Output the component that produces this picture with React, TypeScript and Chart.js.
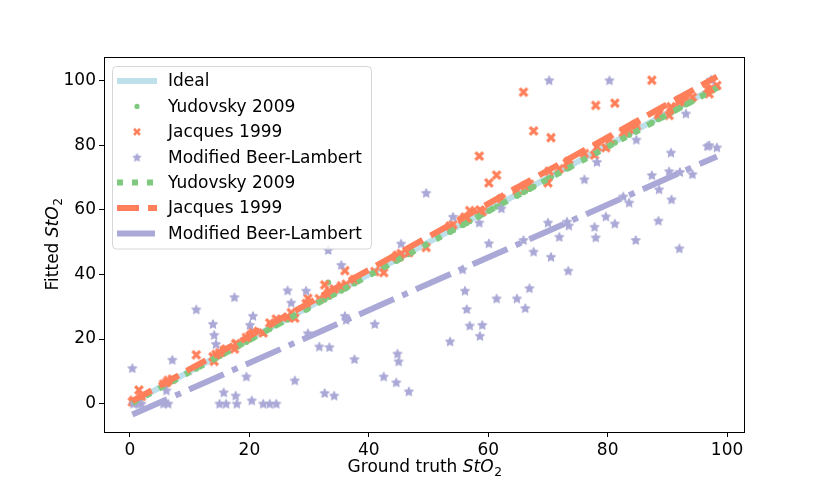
import React, { useEffect, useRef } from 'react';
import { Chart, registerables, ChartConfiguration, Plugin } from 'chart.js';
Chart.register(...registerables);

const FONT = '"DejaVu Sans", Verdana, sans-serif';
const FS = 17;

// Ground truth StO2 (shared by all methods)
const groundTruth = [
  0.4, 0.6, 1.5, 1.9, 5.6, 6.1, 6.4, 7.1, 11.1, 13.9,
  14.1, 14.4, 15.0, 15.7, 16.1, 17.5, 17.7, 17.9, 19.5, 20.1,
  20.4, 20.6, 22.3, 23.4, 24.5, 26.4, 27.0, 27.6, 29.5, 29.8,
  31.7, 32.6, 33.2, 33.4, 34.2, 35.4, 36.0, 36.2, 37.6, 41.0,
  42.5, 44.6, 44.8, 45.0, 45.4, 46.7, 49.6, 53.6, 54.1, 55.7,
  56.1, 56.4, 56.9, 58.5, 58.6, 59.0, 60.1, 61.4, 62.2, 64.8,
  65.9, 66.2, 66.9, 67.6, 70.0, 70.2, 70.5, 71.9, 73.2, 73.4,
  73.5, 76.1, 77.8, 78.0, 78.2, 79.7, 80.3, 81.2, 82.6, 83.6,
  84.7, 84.8, 87.4, 88.5, 88.6, 90.3, 90.6, 90.7, 92.0, 92.1,
  93.1, 94.2, 96.7, 97.0, 97.3, 98.3,
];

const yudovsky = [
  0.3, 0.5, 1.3, 1.8, 5.3, 5.9, 6.2, 6.9, 10.8, 13.6,
  14.0, 14.1, 14.7, 15.4, 16.0, 17.2, 17.6, 17.5, 19.1, 19.8,
  20.2, 20.3, 21.9, 23.1, 24.2, 26.0, 26.7, 27.2, 29.1, 29.5,
  31.4, 32.2, 37.5, 33.0, 33.9, 35.0, 35.6, 35.9, 37.2, 40.6,
  42.1, 44.2, 44.4, 44.7, 45.0, 46.3, 49.2, 53.2, 53.7, 55.3,
  55.8, 56.0, 56.5, 58.1, 58.3, 58.6, 59.7, 61.0, 61.8, 64.4,
  65.5, 65.8, 66.5, 67.2, 69.6, 69.8, 70.1, 71.5, 72.8, 73.0,
  73.1, 75.7, 77.4, 77.6, 77.8, 79.3, 79.9, 80.8, 82.2, 83.2,
  84.3, 84.4, 87.0, 88.1, 88.2, 89.9, 90.2, 90.3, 91.6, 91.7,
  92.7, 93.8, 96.3, 96.6, 96.9, 97.9,
];

const jacques = [
  0.5, 1.0, 4.2, 2.2, 6.0, 6.5, 7.2, 7.6, 15.1, 14.5,
  13.1, 15.2, 15.8, 16.5, 16.9, 16.9, 18.6, 18.4, 20.5, 21.0,
  21.5, 22.4, 21.9, 25.0, 26.2, 26.8, 28.2, 26.5, 31.0, 32.6,
  32.5, 36.8, 34.0, 34.6, 35.5, 36.5, 41.2, 37.0, 38.5, 40.9,
  40.6, 45.5, 46.0, 45.5, 46.5, 46.8, 48.4, 55.0, 55.5, 57.0,
  57.8, 57.5, 59.8, 76.7, 60.0, 59.5, 68.4, 70.8, 63.5, 66.0,
  96.5, 67.5, 68.0, 84.5, 68.4, 72.0, 82.4, 72.8, 74.5, 75.0,
  74.0, 77.5, 77.0, 92.4, 79.5, 79.3, 81.8, 93.1, 84.0, 85.0,
  86.5, 86.0, 100.2, 89.5, 90.0, 89.3, 92.0, 91.5, 93.5, 94.0,
  94.5, 95.0, 97.5, 96.0, 97.6, 98.6,
];

const beerLambert = [
  11.0, 0.0, 0.0, 0.0, 0.0, 4.1, 0.0, 13.6, 29.2, 24.7,
  21.3, 18.5, 0.0, 3.5, 0.0, 33.0, 2.5, 0.0, 8.4, 24.4,
  1.0, 27.2, 0.0, 0.0, 0.0, 35.1, 31.3, 7.2, 35.0, 21.8,
  17.7, 3.3, 47.6, 17.5, 2.5, 43.0, 27.2, 26.0, 13.8, 24.7,
  8.4, 6.6, 15.5, 13.1, 49.6, 3.8, 65.3, 19.3, 57.9, 41.6,
  35.0, 29.3, 24.2, 56.1, 21.0, 24.4, 49.7, 32.6, 60.5, 32.6,
  50.7, 29.6, 35.8, 47.1, 56.1, 100.2, 45.5, 51.7, 56.4, 41.2,
  55.2, 69.5, 54.8, 51.5, 74.9, 58.0, 100.2, 55.8, 64.2, 62.3,
  50.7, 81.8, 70.8, 56.7, 66.4, 72.0, 77.8, 63.3, 48.1, 71.8,
  89.9, 71.1, 79.8, 80.1, 100.4, 79.4,
];

// fitted lines (end points)
const fitX = [0.4, 98.3];
const idealY = [0.4, 98.3];
const yudovskyFitY = [0.2, 97.8];
const jacquesFitY = [0.8, 101.3];
const beerLambertFitY = [-3.4, 76.6];

const IDEAL = 'rgba(173, 216, 230, 0.8)';
const GREEN = '#7fc97f';
const ORANGE = '#ff7f5a';
const PURPLE = 'rgb(170, 168, 214)';

const pts = (xs: number[], ys: number[]) => xs.map((x, i) => ({ x, y: ys[i] }));

function starMarker(color: string, r: number) {
  const c = document.createElement('canvas');
  const s = Math.ceil(r * 2 + 4);
  c.width = s;
  c.height = s;
  const ctx = c.getContext('2d')!;
  ctx.fillStyle = color;
  ctx.strokeStyle = color;
  ctx.lineWidth = 1;
  ctx.lineJoin = 'round';
  ctx.beginPath();
  for (let i = 0; i < 10; i++) {
    const a = -Math.PI / 2 + (i * Math.PI) / 5;
    const rr = i % 2 ? r * 0.48 : r;
    const px = s / 2 + rr * Math.cos(a);
    const py = s / 2 + rr * Math.sin(a) + 0.5;
    if (i === 0) ctx.moveTo(px, py);
    else ctx.lineTo(px, py);
  }
  ctx.closePath();
  ctx.fill();
  ctx.stroke();
  return c;
}

function xMarker(color: string, h: number) {
  const c = document.createElement('canvas');
  const s = Math.ceil(h * 2 + 4);
  c.width = s;
  c.height = s;
  const ctx = c.getContext('2d')!;
  ctx.strokeStyle = color;
  ctx.lineWidth = h * 0.85;
  ctx.lineCap = 'butt';
  const m = s / 2;
  ctx.beginPath();
  ctx.moveTo(m - h, m - h);
  ctx.lineTo(m + h, m + h);
  ctx.moveTo(m - h, m + h);
  ctx.lineTo(m + h, m - h);
  ctx.stroke();
  return c;
}

function drawMathLabel(ctx: CanvasRenderingContext2D, prefix: string, x: number, y: number) {
  const normal = `${FS}px ${FONT}`;
  const italic = `italic ${FS}px ${FONT}`;
  const sub = `${FS * 0.72}px ${FONT}`;
  ctx.font = normal;
  const w1 = ctx.measureText(prefix).width;
  ctx.font = italic;
  const w2 = ctx.measureText('StO').width;
  ctx.font = sub;
  const w3 = ctx.measureText('2').width;
  let cx = x - (w1 + w2 + w3) / 2;
  ctx.fillStyle = '#000';
  ctx.textAlign = 'left';
  ctx.textBaseline = 'alphabetic';
  ctx.font = normal;
  ctx.fillText(prefix, cx, y);
  cx += w1;
  ctx.font = italic;
  ctx.fillText('StO', cx, y);
  cx += w2 + 0.5;
  ctx.font = sub;
  ctx.fillText('2', cx, y + 3.5);
}

const App: React.FC = () => {
  const canvasRef = useRef<HTMLCanvasElement>(null);
  const chartRef = useRef<Chart | null>(null);

  useEffect(() => {
    if (!canvasRef.current) return;
    const ctx = canvasRef.current.getContext('2d');
    if (!ctx) return;

    const star = starMarker(PURPLE, 4.8);
    const cross = xMarker(ORANGE, 3.8);
    const starSmall = starMarker(PURPLE, 4.2);
    const crossSmall = xMarker(ORANGE, 3.0);

    const legendRows: { label: string; kind: string; color: string; dash?: number[]; img?: HTMLCanvasElement }[] = [
      { label: 'Ideal', kind: 'line', color: IDEAL },
      { label: 'Yudovsky 2009', kind: 'dot', color: GREEN },
      { label: 'Jacques 1999', kind: 'img', color: ORANGE, img: crossSmall },
      { label: 'Modified Beer-Lambert', kind: 'img', color: PURPLE, img: starSmall },
      { label: 'Yudovsky 2009', kind: 'line', color: GREEN, dash: [6, 9] },
      { label: 'Jacques 1999', kind: 'line', color: ORANGE, dash: [22, 9] },
      { label: 'Modified Beer-Lambert', kind: 'line', color: PURPLE, dash: [38, 9, 6, 9] },
    ];

    const decor: Plugin = {
      id: 'decor',
      afterDraw(chart) {
        const c = chart.ctx;
        const { left, right, top, bottom } = chart.chartArea;
        c.save();
        // frame
        c.strokeStyle = '#000';
        c.lineWidth = 1;
        c.setLineDash([]);
        c.strokeRect(Math.round(left) + 0.5, Math.round(top) + 0.5, Math.round(right - left) - 1, Math.round(bottom - top));

        // axis titles
        drawMathLabel(c, 'Ground truth ', (left + right) / 2, 472);
        c.save();
        c.translate(52, (top + bottom) / 2);
        c.rotate(-Math.PI / 2);
        drawMathLabel(c, 'Fitted ', 0, 6);
        c.restore();

        // legend box
        const bx = 112.5, by = 66.5, bw = 259, bh = 182.5, r = 4;
        c.beginPath();
        c.moveTo(bx + r, by);
        c.arcTo(bx + bw, by, bx + bw, by + bh, r);
        c.arcTo(bx + bw, by + bh, bx, by + bh, r);
        c.arcTo(bx, by + bh, bx, by, r);
        c.arcTo(bx, by, bx + bw, by, r);
        c.closePath();
        c.fillStyle = 'rgba(255,255,255,0.8)';
        c.fill();
        c.strokeStyle = '#d6d6d6';
        c.stroke();

        legendRows.forEach((row, i) => {
          const y = 81 + i * 25.4;
          if (row.kind === 'line') {
            c.strokeStyle = row.color;
            c.lineWidth = 6;
            c.lineCap = 'butt';
            c.setLineDash(row.dash || []);
            c.beginPath();
            c.moveTo(117, y);
            c.lineTo(157, y);
            c.stroke();
            c.setLineDash([]);
          } else if (row.kind === 'dot') {
            c.fillStyle = row.color;
            c.beginPath();
            c.arc(137, y, 2.6, 0, Math.PI * 2);
            c.fill();
          } else if (row.img) {
            c.drawImage(row.img, 137 - row.img.width / 2, y - row.img.height / 2);
          }
          c.fillStyle = '#000';
          c.font = `${FS}px ${FONT}`;
          c.textAlign = 'left';
          c.textBaseline = 'middle';
          c.fillText(row.label, 168, y + 1);
        });
        c.restore();
      },
    };

    const lineDs = (label: string, ys: number[], color: string, dash: number[], order: number) => ({
      label,
      data: pts(fitX, ys),
      showLine: true,
      borderColor: color,
      backgroundColor: color,
      borderWidth: 6,
      borderDash: dash,
      borderCapStyle: 'butt' as const,
      pointRadius: 0,
      order,
    });

    const config: ChartConfiguration<'scatter'> = {
      type: 'scatter',
      data: {
        datasets: [
          lineDs('Ideal', idealY, IDEAL, [], 7),
          {
            label: 'Yudovsky 2009',
            data: pts(groundTruth, yudovsky),
            pointStyle: 'circle',
            pointRadius: 3,
            pointBorderWidth: 0,
            backgroundColor: GREEN,
            borderColor: GREEN,
            order: 6,
          },
          {
            label: 'Jacques 1999',
            data: pts(groundTruth, jacques),
            pointStyle: cross,
            backgroundColor: ORANGE,
            borderColor: ORANGE,
            order: 5,
          },
          {
            label: 'Modified Beer-Lambert',
            data: pts(groundTruth, beerLambert),
            pointStyle: star,
            backgroundColor: PURPLE,
            borderColor: PURPLE,
            order: 4,
          },
          lineDs('Yudovsky 2009', yudovskyFitY, GREEN, [6, 9], 3),
          lineDs('Jacques 1999', jacquesFitY, ORANGE, [22, 9], 2),
          lineDs('Modified Beer-Lambert', beerLambertFitY, PURPLE, [38, 9, 6, 9], 1),
        ] as any,
      },
      options: {
        responsive: false,
        animation: false,
        layout: { padding: { left: 0, right: 85, top: 57, bottom: 0 } },
        scales: {
          x: {
            type: 'linear',
            min: -4.35,
            max: 103.0,
            border: { display: false },
            grid: { drawOnChartArea: false, drawTicks: true, tickLength: 5, color: '#000' },
            ticks: {
              stepSize: 20,
              includeBounds: false,
              color: '#000',
              padding: 3,
              maxRotation: 0,
              font: { family: FONT, size: FS },
            },
            afterFit: (scale) => {
              scale.height = 53;
            },
          },
          y: {
            type: 'linear',
            min: -8.8,
            max: 107.4,
            border: { display: false },
            grid: { drawOnChartArea: false, drawTicks: true, tickLength: 5, color: '#000' },
            ticks: {
              stepSize: 20,
              includeBounds: false,
              color: '#000',
              padding: 3,
              font: { family: FONT, size: FS },
            },
            afterFit: (scale) => {
              scale.width = 104;
            },
          },
        },
        plugins: {
          legend: { display: false },
          tooltip: { enabled: false },
          title: { display: false },
        },
      },
      plugins: [decor],
    };

    chartRef.current = new Chart(ctx, config);
    return () => {
      if (chartRef.current) {
        chartRef.current.destroy();
        chartRef.current = null;
      }
    };
  }, []);

  return (
    <div style={{ position: 'absolute', left: 0, top: 0, width: 830, height: 485, background: '#fff' }}>
      <canvas ref={canvasRef} width={830} height={485}></canvas>
    </div>
  );
};

export default App;
